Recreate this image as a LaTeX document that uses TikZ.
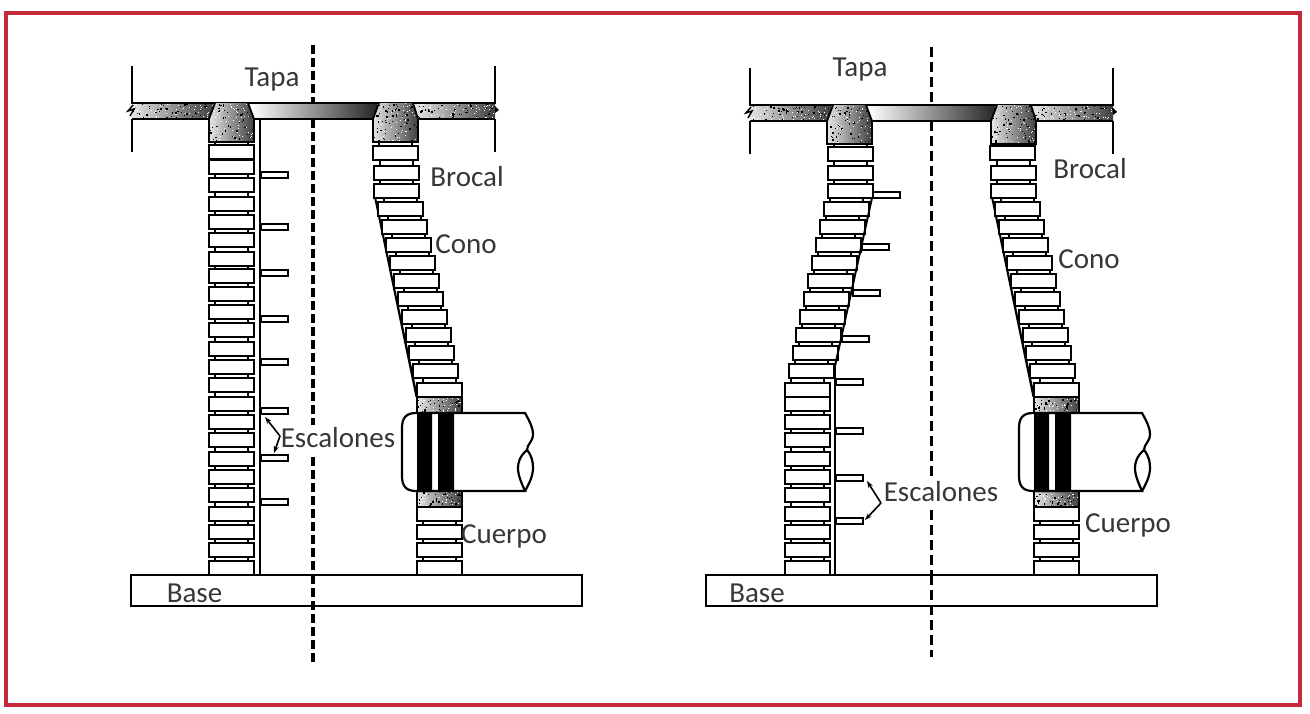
\documentclass[tikz,border=0pt]{standalone}
\usepackage{fontspec}
\setmainfont{Carlito}
\usetikzlibrary{arrows.meta}
\definecolor{frameRed}{RGB}{198,40,60}
\definecolor{inkText}{RGB}{55,55,55}
\tikzset{
  lbl/.style={font=\fontsize{29}{31}\selectfont,text=inkText,inner sep=0pt},
  brickline/.style={draw=black,line width=2.4pt,fill=white},
  thin ink/.style={draw=black,line width=1.8pt},
  chev/.style={draw=black,line width=1.6pt,-{Stealth[length=7pt,width=5pt]}},
  concrete/.style={left color=black!10,right color=black!75},
}
\pgfmathsetseed{4242}
% speckle: x1,y1,x2,y2,count
\newcommand\speck[5]{%
  \begin{scope}
    \clip (#1,#2) rectangle (#3,#4);
    \foreach \i in {1,...,#5}{%
      \pgfmathsetmacro\px{#1+rnd*(#3-#1)}%
      \pgfmathsetmacro\py{#2+rnd*(#4-#2)}%
      \pgfmathsetmacro\ps{0.7+rnd*1.1}%
      \fill[black] (\px,\py) rectangle ++(\ps,\ps);
    }
    \foreach \i in {1,...,#5}{%
      \pgfmathsetmacro\px{#1+rnd*(#3-#1)}%
      \pgfmathsetmacro\py{#2+rnd*(#4-#2)}%
      \fill[white] (\px,\py) rectangle ++(1,1);
    }
  \end{scope}}
% bricks: pairs x/y, width 45, height 14
\newcommand\bricks[1]{%
  \foreach \bx/\by in {#1}{%
    \draw[thin ink] (\bx+6,\by-6) -- (\bx+6,\by) (\bx+39,\by-6) -- (\bx+39,\by);
  }
  \foreach \bx/\by in {#1}{%
    \draw[brickline] (\bx,\by) rectangle (\bx+45,\by+14);
  }}
% slab, collars and tapa, in the coordinates of the left figure
\newcommand\slab{%
  \shade[concrete] (132,103) rectangle (213,119);
  \speck{132}{103}{213}{119}{50}
  \shade[concrete] (415,103) rectangle (495,119);
  \speck{415}{103}{495}{119}{50}
  \shade[left color=white,right color=black!85] (250,103) rectangle (377,119);
  \draw[black,line width=2.6pt] (132,103) -- (495,103) (132,119) -- (209,119) (254,119) -- (373,119) (418,119) -- (495,119);
  \shade[concrete] (215,103) -- (248,103) -- (254,119) -- (254,142) -- (209,142) -- (209,119) -- cycle;
  \begin{scope}
    \clip (215,103) -- (248,103) -- (254,119) -- (254,142) -- (209,142) -- (209,119) -- cycle;
    \speck{209}{103}{254}{142}{55}
  \end{scope}
  \draw[thin ink] (215,103) -- (209,119) -- (209,142) -- (254,142) -- (254,119) -- (248,103);
  \shade[concrete] (379,103) -- (413,103) -- (418,119) -- (418,142) -- (373,142) -- (373,119) -- cycle;
  \begin{scope}
    \clip (379,103) -- (413,103) -- (418,119) -- (418,142) -- (373,142) -- (373,119) -- cycle;
    \speck{373}{103}{418}{142}{55}
  \end{scope}
  \draw[thin ink] (379,103) -- (373,119) -- (373,142) -- (418,142) -- (418,119) -- (413,103);
  \draw[black,line width=1.8pt] (132,66) -- (132,104) (132,119) -- (132,152) (495,66) -- (495,104) (495,119) -- (495,152);
  \draw[black,line width=1.5pt] (133,105) -- (128,111) -- (134,109) -- (130,116);
  \fill[black] (495,106) -- (499,110) -- (495,113) -- cycle;
}
% sloping wall, connection, pipe, lower wall
\newcommand\conewall{%
  \fill[black] (374,197) -- (376,197) -- (418,397) -- (415.5,397) -- cycle;
  \bricks{373/146,374/166,374/184,378/202,382/220,386/238,390/256,394/274,398/292,402/310,406/328,409/346,413/364,417/383}
  \shade[concrete] (417,397) rectangle (462,412);
  \speck{417}{397}{462}{412}{35}
  \draw[thin ink] (417,397) -- (417,412) (462,397) -- (462,412) (417,397) -- (462,397);
  \bricks{417/507,417/525,417/543,417/561}
  \shade[concrete] (417,492) rectangle (462,507);
  \speck{417}{492}{462}{507}{35}
  \draw[thin ink] (417,492) -- (417,507) -- (462,507) -- (462,492);
  \draw[black,line width=2.2pt,fill=white] (417,413) -- (416,413) .. controls (406,413) and (402,418) .. (402,428) -- (402,476) .. controls (402,486) and (406,491) .. (416,491) -- (525,491) .. controls (522,484) and (518,476) .. (518,468) .. controls (518,462) and (520,456) .. (527,450) .. controls (527,444) and (533,442) .. (533,434) .. controls (533,428) and (530,422) .. (525,413) -- cycle;
  \draw[black,line width=2.2pt] (527,450) .. controls (532,456) and (533,462) .. (533,468) .. controls (533,476) and (529,484) .. (525,491);
  \fill[black] (417,412) rectangle (432,492) (438,412) rectangle (454,492);
}
\begin{document}
\begin{tikzpicture}[x=1pt,y=-1pt]
\useasboundingbox (0,0) rectangle (1310,713);
\fill[white] (0,0) rectangle (1310,713);
\draw[frameRed,line width=3.2pt] (6,13) rectangle (1300,705);

% ---------- left figure ----------
\draw[black,line width=3.4pt,dash pattern=on 9pt off 4pt] (313,45) -- (313,103) (313,119) -- (313,425) (313,457) -- (313,575);
\bricks{209/145,209/160,209/178,209/197,209/215,209/233,209/252,209/269,209/287,209/305,209/323,209/342,209/360,209/378,209/397,209/415,209/433,209/452,209/470,209/488,209/507,209/525,209/543,209/561}
\slab
\draw[black,line width=2.4pt] (260,119) -- (260,575);
\foreach \ry in {175,227,273,319,362,411,458,502}{
  \draw[black,line width=2pt,fill=white] (261,\ry-3) rectangle (288,\ry+3);
}
\conewall
\node[draw=black,line width=2.2pt,fill=white,minimum width=451pt,minimum height=31pt,inner sep=0pt] (baseL) at (356.5,590.5) {};
\draw[black,line width=3.4pt,dash pattern=on 9pt off 4pt] (313,575) -- (313,665);
\node[lbl] (tapaL) at (272,80) {Tapa};
\node[lbl] (brocalL) at (467,177) {Brocal};
\node[lbl] (conoL) at (466,244) {Cono};
\node[lbl] (escL) at (338,438) {Escalones};
\node[lbl] (cuerpoL) at (504,536) {Cuerpo};
\node[lbl] (baseTextL) at (194.5,593) {Base};
\coordinate (kinkL) at (280,436);
\coordinate (stepUpL) at (265,417);
\coordinate (stepDownL) at (274,453);
\draw[chev] (kinkL) -- (stepUpL);
\draw[chev] (kinkL) -- (stepDownL);

% ---------- right figure ----------
\draw[black,line width=3pt,dash pattern=on 10pt off 5pt] (931,47) -- (931,105) (931,121) -- (931,480) (931,510) -- (931,575);
\bricks{828/147,828/166,828/184,824/202,820/220,816/238,812/256,808/274,804/292,800/310,796/328,793/346,789/364,785/383,785/397,785/415,785/433,785/452,785/470,785/488,785/507,785/525,785/543,785/561}
\begin{scope}[shift={(618pt,-2pt)}]
  \slab
\end{scope}
\fill[black] (871,198) -- (873,198) -- (836,366) -- (834,366) -- cycle;
\draw[black,line width=2.4pt] (835,364) -- (835,575);
\foreach \rx/\ry in {873/195,862/247,853/293,842/339,836/382,836/431,836/478,836/521}{
  \draw[black,line width=2pt,fill=white] (\rx,\ry-3) rectangle (\rx+27,\ry+3);
}
\begin{scope}[xshift=617pt]
  \conewall
\end{scope}
\node[draw=black,line width=2.2pt,fill=white,minimum width=451pt,minimum height=31pt,inner sep=0pt] (baseR) at (931.5,590.5) {};
\draw[black,line width=3pt,dash pattern=on 10pt off 5pt] (931,575) -- (931,657);
\node[lbl] (tapaR) at (860,70) {Tapa};
\node[lbl] (brocalR) at (1090,169) {Brocal};
\node[lbl] (conoR) at (1089,259) {Cono};
\node[lbl] (escR) at (941,492) {Escalones};
\node[lbl] (cuerpoR) at (1128,525) {Cuerpo};
\node[lbl] (baseTextR) at (757,593) {Base};
\coordinate (kinkR) at (881,503);
\coordinate (stepUpR) at (867,481);
\coordinate (stepDownR) at (865,520);
\draw[chev] (kinkR) -- (stepUpR);
\draw[chev] (kinkR) -- (stepDownR);
\end{tikzpicture}
\end{document}
